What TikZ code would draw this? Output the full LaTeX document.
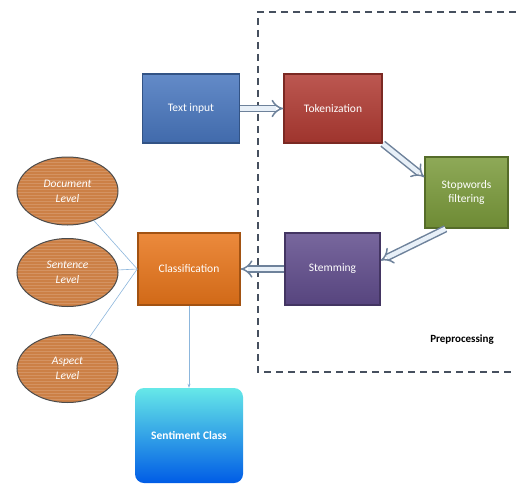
\documentclass[tikz,border=0pt]{standalone}
\usepackage{fontspec}
\setmainfont{Carlito}
\usetikzlibrary{positioning, patterns, shapes, arrows.meta, calc}
\definecolor{BoxBlue}{RGB}{72,118,190}
\definecolor{BoxRed}{RGB}{176,58,50}
\definecolor{BoxGreen}{RGB}{122,154,58}
\definecolor{BoxPurple}{RGB}{96,76,140}
\definecolor{BoxOrange}{RGB}{232,117,26}
\definecolor{Wood}{RGB}{204,128,70}
\definecolor{LinkBlue}{RGB}{140,182,220}
\definecolor{ArrGray}{RGB}{110,130,155}
\definecolor{FrameGray}{RGB}{70,80,95}

\begin{document}
\begin{tikzpicture}[x=1pt, y=-1pt]
      \tikzset{ blk/.style  ={draw=#1!70!black, line width=1.5pt, top color=#1!85!white, bottom color=#1!90!black, text=white, minimum width=97pt, minimum height=69pt, inner sep=0pt, align=center, font=\fontsize{11.5}{14}\selectfont} }
      \tikzset{ lvl/.style  ={draw=black!70, line width=1pt, ellipse, minimum width=101pt, minimum height=68pt, inner sep=0pt, text=white, align=center, preaction={fill=Wood}, pattern=horizontal lines, pattern color=Wood!85!white, font=\fontsize{11.5}{15}\selectfont\itshape} }
      \tikzset{ blkarr/.style={draw=ArrGray, line width=1.5pt, double=white!80!LinkBlue, double distance=4.5pt, -{Implies}} }
      \tikzset{ link/.style ={draw=LinkBlue, line width=0.6pt} }

      \useasboundingbox (0,0) rectangle (516,484);

      % preprocessing frame
      \draw[FrameGray, line width=1.1pt, dash pattern=on 7pt off 5pt] (516,12) -- (258,12) -- (258,372) -- (516,372);
      \node[font=\fontsize{11}{13}\selectfont\bfseries] (pre) at (462,340) {Preprocessing};

      \node[blk=BoxBlue                                        ] (txtin) at (191,108.5) {Text input};
      \node[blk=BoxRed,    minimum width=98pt                  ] (tok)   at (333,108.5) {Tokenization};
      \node[blk=BoxGreen,  minimum width=83pt, minimum height=71pt] (stop) at (466.5,192.5) {Stopwords\\filtering};
      \node[blk=BoxPurple, minimum width=95pt, minimum height=72pt] (stem) at (332.5,269) {Stemming};
      \node[blk=BoxOrange, minimum width=102pt, minimum height=72pt] (cls) at (189,269) {Classification};
      \node[draw=none, rounded corners=9pt, top color=cyan!70!teal!60!white, bottom color=blue!60!cyan!90!black, text=white, minimum width=108pt, minimum height=95pt, font=\fontsize{11.5}{14}\selectfont\bfseries] (sent) at (189,435.5) {Sentiment Class};

      \node[lvl] (doc) at (67.5,191)   {Document\\Level};
      \node[lvl] (sen) at (67.5,272.5) {Sentence\\Level};
      \node[lvl] (asp) at (67.5,368.5) {Aspect\\Level};

      \draw[blkarr] (txtin.east) -- (tok.west);
      \draw[blkarr] (tok.south east) -- (stop.160);
      \draw[blkarr] (stop.-120) -- (stem.10);
      \draw[blkarr] (stem.west) -- (cls.east);

      \draw[link] (doc) -- (cls.west);
      \draw[link] (sen) -- (cls.west);
      \draw[link] (asp) -- (cls.west);
      \draw[link, -{Stealth[length=4pt]}] (cls) -- (sent);
    \end{tikzpicture}
\end{document}
